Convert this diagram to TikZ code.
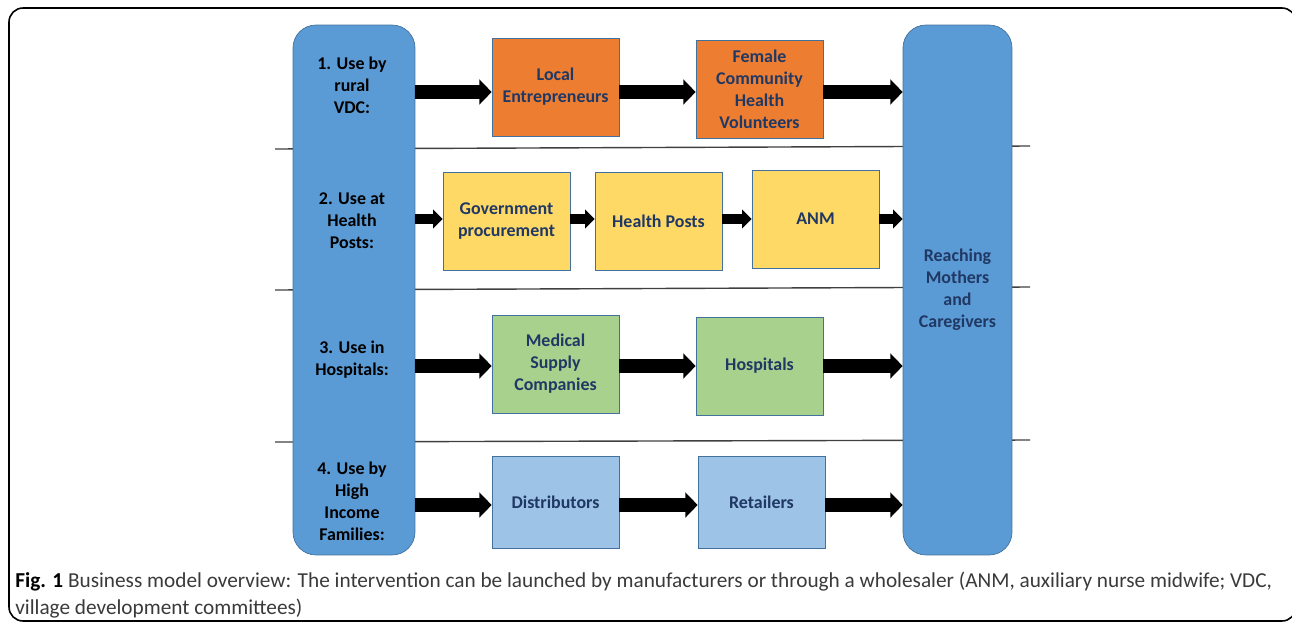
\documentclass[tikz,border=0pt]{standalone}
\usepackage{fontspec}
\setmainfont{Carlito}
\usetikzlibrary{positioning,arrows.meta}

\definecolor{colblue}{HTML}{5B9BD5}
\definecolor{edgeblue}{HTML}{41719C}
\definecolor{orangebox}{HTML}{ED7D31}
\definecolor{yellowbox}{HTML}{FFD966}
\definecolor{greenbox}{HTML}{A9D18E}
\definecolor{lightbox}{HTML}{9DC3E6}
\definecolor{navytext}{HTML}{203864}
\definecolor{captext}{HTML}{3A3A3A}

\newcommand{\boxfont}{\fontsize{10.2}{12.5}\selectfont\bfseries}
\newcommand{\capfont}{\fontsize{12.1}{14}\selectfont}

\begin{document}
\begin{tikzpicture}[x=0.02cm, y=-0.02cm,
    lane/.style={draw=edgeblue, fill=colblue, rounded corners=13pt, minimum height=10.6cm, inner sep=0pt},
    stage/.style={draw=edgeblue, minimum width=2.54cm, minimum height=1.96cm, text=navytext, font=\boxfont, align=center, inner sep=1pt},
    flow/.style={line width=7.5pt, -{Triangle[length=7pt,width=14pt]}},
    shortflow/.style={line width=5.5pt, -{Triangle[length=5.5pt,width=10.5pt]}},
    divider/.style={line width=0.8pt, draw=black!75},
    lanetext/.style={font=\boxfont, align=center, text=black}]

        \useasboundingbox (0,0) rectangle (1292,626);

        % outer frame
        \draw[line width=0.9pt, rounded corners=8pt] (9,8) rectangle (1296,621);

        % row dividers
        \coordinate (d1a) at (275,149);
        \coordinate (d1b) at (1030,146);
        \coordinate (d2a) at (275,290);
        \coordinate (d2b) at (1030,287);
        \coordinate (d3a) at (275,442);
        \coordinate (d3b) at (1030,440);
        \draw[divider] (d1a) -- (d1b);
        \draw[divider] (d2a) -- (d2b);
        \draw[divider] (d3a) -- (d3b);

        % the two columns
        \node[lane, minimum width=2.44cm] (usecol) at (354,290) {};
        \node[lane, minimum width=2.18cm, text=navytext, font=\boxfont, align=center]
            (reach) at (957.5,290) {Reaching\\Mothers\\and\\Caregivers};

        % row labels
        \node[lanetext] (lab1) at (352,85) {1. Use by\\rural\\VDC:};
        \node[lanetext] (lab2) at (352,221) {2. Use at\\Health\\Posts:};
        \node[lanetext] (lab3) at (352,360) {3. Use in\\Hospitals:};
        \node[lanetext] (lab4) at (352,501) {4. Use by\\High\\Income\\Families:};

        % row 1
        \node[stage, fill=orangebox] (locent) at (555.5,87) {Local\\Entrepreneurs};
        \node[stage, fill=orangebox] (fchv) at (759.5,89) {Female\\Community\\Health\\Volunteers};

        % row 2
        \node[stage, fill=yellowbox] (govproc) at (506.5,221) {Government\\procurement};
        \node[stage, fill=yellowbox] (hposts) at (658.5,221.5) {Health Posts};
        \node[stage, fill=yellowbox] (anm) at (815.5,219) {ANM};

        % row 3
        \node[stage, fill=greenbox] (medsup) at (555.5,364) {Medical\\Supply\\Companies};
        \node[stage, fill=greenbox] (hosp) at (759.5,366) {Hospitals};

        % row 4
        \node[stage, fill=lightbox, minimum height=1.84cm] (distr) at (555.5,502) {Distributors};
        \node[stage, fill=lightbox, minimum height=1.84cm] (retail) at (761.5,502) {Retailers};

        % arrow heights
        \coordinate (r1) at (0,92);
        \coordinate (r2) at (0,219);
        \coordinate (r3) at (0,366);
        \coordinate (r4) at (0,505);

        % arrows
        \draw[flow] (usecol.east |- r1) -- (locent.west |- r1);
        \draw[flow] (locent.east |- r1) -- (fchv.west |- r1);
        \draw[flow] (fchv.east |- r1) -- (reach.west |- r1);

        \draw[shortflow] (usecol.east |- r2) -- (govproc.west |- r2);
        \draw[shortflow] (govproc.east |- r2) -- (hposts.west |- r2);
        \draw[shortflow] (hposts.east |- r2) -- (anm.west |- r2);
        \draw[shortflow] (anm.east |- r2) -- (reach.west |- r2);

        \draw[flow] (usecol.east |- r3) -- (medsup.west |- r3);
        \draw[flow] (medsup.east |- r3) -- (hosp.west |- r3);
        \draw[flow] (hosp.east |- r3) -- (reach.west |- r3);

        \draw[flow] (usecol.east |- r4) -- (distr.west |- r4);
        \draw[flow] (distr.east |- r4) -- (retail.west |- r4);
        \draw[flow] (retail.east |- r4) -- (reach.west |- r4);

        % caption
        \node[anchor=base west, inner sep=0pt, font=\capfont, text=captext] (cap1) at (15,587)
            {\textcolor{black}{\textbf{Fig. 1}} Business model overview: The intervention can be launched by manufacturers or through a wholesaler (ANM, auxiliary nurse midwife; VDC,};
        \node[anchor=base west, inner sep=0pt, font=\capfont, text=captext] (cap2) at (15,614)
            {village development committees)};

    \end{tikzpicture}
\end{document}
